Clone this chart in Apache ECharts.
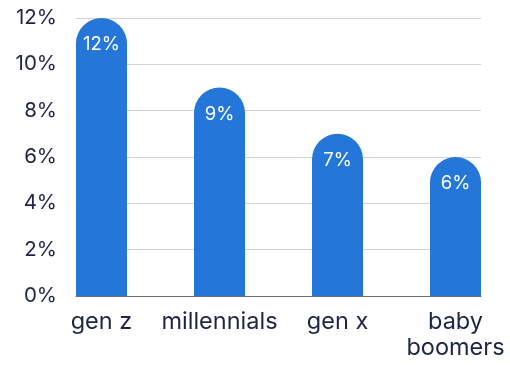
<!DOCTYPE html>
<html>
<head>
<meta charset="utf-8">
<script src="https://cdn.jsdelivr.net/npm/echarts@6/dist/echarts.min.js"></script>
<style>
  html, body { margin: 0; padding: 0; background: #fff; }
  #chart { width: 510px; height: 365px; }
</style>
</head>
<body>
<div id="chart"></div>
<script>
// Share of each generation, in percent
const categories = ['gen z', 'millennials', 'gen x', 'baby\nboomers'];
const values = [12, 9, 7, 6];
const yTicks = [0, 2, 4, 6, 8, 10, 12];

const positions = categories.map((_, i) => i);
const pad = 0.216; // half a bar of slack at each end, in category units

const chart = echarts.init(document.getElementById('chart'), null, { renderer: 'canvas' });
chart.setOption({
  animation: false,
  grid: { left: 76, right: 29, top: 18, bottom: 69 },
  xAxis: {
    type: 'value',
    min: -pad,
    max: positions.length - 1 + pad,
    splitLine: { show: false },
    axisTick: { show: false },
    axisLine: { show: true, onZero: false, lineStyle: { color: '#6e6e7e', width: 1 } },
    axisLabel: {
      customValues: positions,
      formatter: v => categories[Math.round(v)],
      color: '#1c2546',
      fontFamily: 'Inter',
      fontSize: 23.5,
      lineHeight: 26,
      margin: 13
    }
  },
  yAxis: {
    type: 'value',
    min: yTicks[0],
    max: yTicks[yTicks.length - 1],
    interval: 2,
    axisLine: { show: false },
    axisTick: { show: false },
    splitLine: { lineStyle: { color: '#d3d3db', width: 1 } },
    axisLabel: {
      formatter: '{value}%',
      color: '#1c2546',
      fontFamily: 'Inter',
      fontSize: 20.5,
      margin: 19
    }
  },
  series: [{
    type: 'bar',
    data: values.map((v, i) => [positions[i], v]),
    barWidth: 51,
    itemStyle: { color: '#2476d9', borderRadius: [25.5, 25.5, 0, 0] },
    label: {
      show: true,
      position: 'insideTop',
      distance: 17,
      formatter: p => p.value[1] + '%',
      color: '#ffffff',
      fontFamily: 'Inter',
      fontSize: 18.5
    }
  }]
});
</script>
</body>
</html>
